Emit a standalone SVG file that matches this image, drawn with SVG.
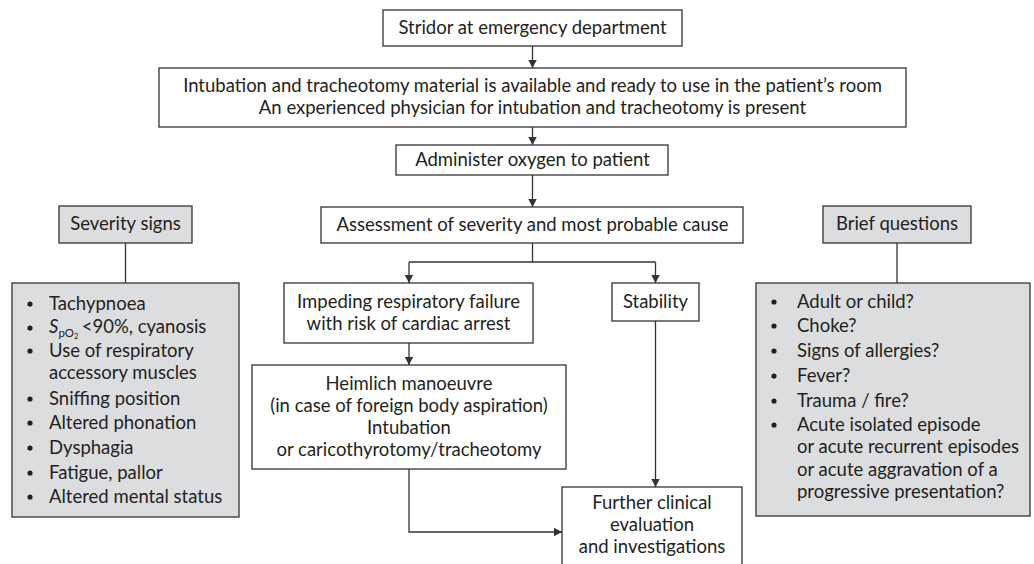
<svg xmlns="http://www.w3.org/2000/svg" width="1034" height="564" viewBox="0 0 1034 564">
<style>
.box{fill:#ffffff;stroke:#333333;stroke-width:1.3}
.gbox{fill:#dcdddf;stroke:#333333;stroke-width:1.3}
.t{font-family:Lato,"Open Sans","Liberation Sans",sans-serif;font-size:18.5px;fill:#231f20}
.c{text-anchor:middle}
.con{fill:none;stroke:#333333;stroke-width:1.3}
.dot{fill:#231f20}
</style>
<defs>
<marker id="arr" markerUnits="userSpaceOnUse" markerWidth="10" markerHeight="10" refX="8.5" refY="4.5" orient="auto">
<path d="M0,0 L8.5,4.5 L0,9 z" fill="#333333"/>
</marker>
</defs>
<rect width="1034" height="564" fill="#ffffff"/>

<g id="connectors">
<line class="con" x1="532.5" y1="46" x2="532.5" y2="68" marker-end="url(#arr)"/>
<line class="con" x1="532.5" y1="127" x2="532.5" y2="145" marker-end="url(#arr)"/>
<line class="con" x1="532.5" y1="175" x2="532.5" y2="207" marker-end="url(#arr)"/>
<polyline class="con" points="532.5,243 532.5,262"/>
<polyline class="con" points="409,262 655.5,262"/>
<line class="con" x1="409" y1="262" x2="409" y2="283" marker-end="url(#arr)"/>
<line class="con" x1="655.5" y1="262" x2="655.5" y2="283" marker-end="url(#arr)"/>
<line class="con" x1="409" y1="343" x2="409" y2="365" marker-end="url(#arr)"/>
<line class="con" x1="655.5" y1="321" x2="655.5" y2="487" marker-end="url(#arr)"/>
<polyline class="con" points="409,469 409,532 562,532" marker-end="url(#arr)"/>
<line class="con" x1="125.5" y1="243" x2="125.5" y2="283"/>
<line class="con" x1="897" y1="243" x2="897" y2="283"/>
</g>

<g id="stridor">
<rect class="box" x="383" y="10" width="299" height="36"/>
<text class="t c" x="532.5" y="34">Stridor at emergency department</text>
</g>

<g id="material">
<rect class="box" x="159" y="68" width="747" height="59"/>
<text class="t c" x="532.5" y="92">Intubation and tracheotomy material is available and ready to use in the patient’s room</text>
<text class="t c" x="532.5" y="114">An experienced physician for intubation and tracheotomy is present</text>
</g>

<g id="oxygen">
<rect class="box" x="396" y="145" width="272" height="30"/>
<text class="t c" x="532.5" y="166">Administer oxygen to patient</text>
</g>

<g id="assessment">
<rect class="box" x="321" y="207" width="422" height="36"/>
<text class="t c" x="532.5" y="231">Assessment of severity and most probable cause</text>
</g>

<g id="failure">
<rect class="box" x="284" y="283" width="249" height="60"/>
<text class="t c" x="408.5" y="308">Impeding respiratory failure</text>
<text class="t c" x="408.5" y="330">with risk of cardiac arrest</text>
</g>

<g id="stability">
<rect class="box" x="612" y="283" width="87" height="38"/>
<text class="t c" x="655.5" y="308">Stability</text>
</g>

<g id="heimlich">
<rect class="box" x="252" y="365" width="314" height="104"/>
<text class="t c" x="409" y="390">Heimlich manoeuvre</text>
<text class="t c" x="409" y="412">(in case of foreign body aspiration)</text>
<text class="t c" x="409" y="434">Intubation</text>
<text class="t c" x="409" y="456">or caricothyrotomy/tracheotomy</text>
</g>

<g id="further">
<rect class="box" x="562" y="487" width="180" height="100"/>
<text class="t c" x="652" y="509">Further clinical</text>
<text class="t c" x="652" y="531">evaluation</text>
<text class="t c" x="652" y="553">and investigations</text>
</g>

<g id="severity-header">
<rect class="gbox" x="59" y="206" width="133" height="37"/>
<text class="t c" x="125.5" y="230">Severity signs</text>
</g>

<g id="severity-list">
<rect class="gbox" x="12" y="283" width="227" height="234"/>
<circle class="dot" cx="30" cy="304" r="2.6"/>
<text class="t" x="49" y="310">Tachypnoea</text>
<circle class="dot" cx="30" cy="328" r="2.6"/>
<text class="t" x="49" y="333"><tspan font-style="italic">S</tspan><tspan font-size="11.5" dy="4">pO</tspan><tspan font-size="7.5" dy="2">2</tspan><tspan x="77" dy="-6"> &lt;90%, cyanosis</tspan></text>
<circle class="dot" cx="30" cy="351" r="2.6"/>
<text class="t" x="49" y="357">Use of respiratory</text>
<text class="t" x="49" y="379">accessory muscles</text>
<circle class="dot" cx="30" cy="399" r="2.6"/>
<text class="t" x="49" y="405">Sniffing position</text>
<circle class="dot" cx="30" cy="423" r="2.6"/>
<text class="t" x="49" y="429">Altered phonation</text>
<circle class="dot" cx="30" cy="448" r="2.6"/>
<text class="t" x="49" y="454">Dysphagia</text>
<circle class="dot" cx="30" cy="473" r="2.6"/>
<text class="t" x="49" y="479">Fatigue, pallor</text>
<circle class="dot" cx="30" cy="497" r="2.6"/>
<text class="t" x="49" y="503">Altered mental status</text>
</g>

<g id="questions-header">
<rect class="gbox" x="823" y="206" width="148" height="37"/>
<text class="t c" x="897" y="230">Brief questions</text>
</g>

<g id="questions-list">
<rect class="gbox" x="756" y="283" width="274" height="233"/>
<circle class="dot" cx="774" cy="302" r="2.6"/>
<text class="t" x="797" y="308">Adult or child?</text>
<circle class="dot" cx="774" cy="326" r="2.6"/>
<text class="t" x="797" y="332">Choke?</text>
<circle class="dot" cx="774" cy="351" r="2.6"/>
<text class="t" x="797" y="357">Signs of allergies?</text>
<circle class="dot" cx="774" cy="376" r="2.6"/>
<text class="t" x="797" y="382">Fever?</text>
<circle class="dot" cx="774" cy="401" r="2.6"/>
<text class="t" x="797" y="407">Trauma / fire?</text>
<circle class="dot" cx="774" cy="425" r="2.6"/>
<text class="t" x="797" y="431">Acute isolated episode</text>
<text class="t" x="797" y="453">or acute recurrent episodes</text>
<text class="t" x="797" y="476">or acute aggravation of a</text>
<text class="t" x="797" y="498">progressive presentation?</text>
</g>
</svg>
